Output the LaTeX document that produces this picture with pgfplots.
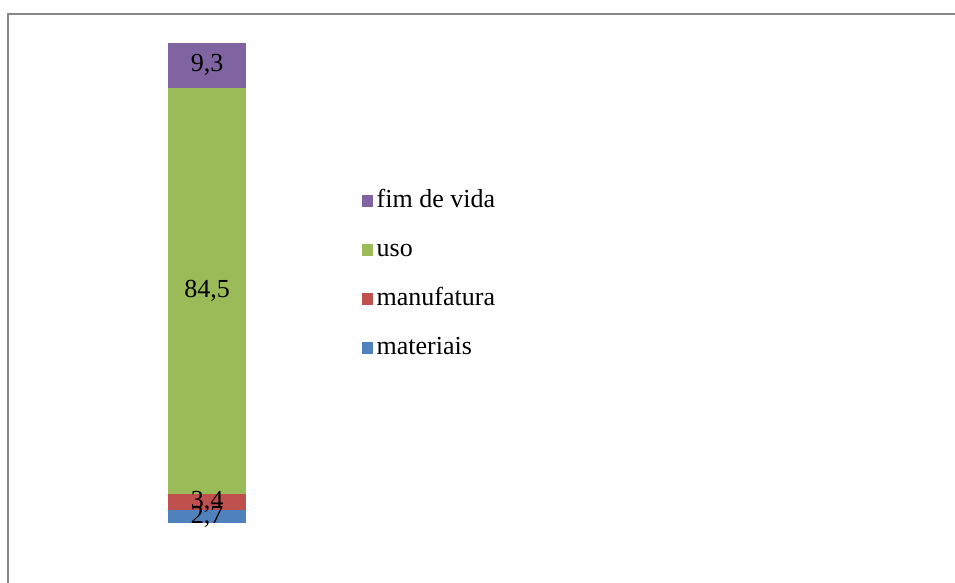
\documentclass[border=0pt,12pt]{standalone}
\usepackage{fontspec}
\setmainfont{Liberation Serif}
\usepackage{pgfplots}
\pgfplotsset{compat=1.18}

\definecolor{cmat}{HTML}{4F81BD}
\definecolor{cman}{HTML}{C0504D}
\definecolor{cuso}{HTML}{9BBB59}
\definecolor{cfim}{HTML}{8064A2}
\definecolor{frame}{HTML}{868686}

\begin{document}
\begin{tikzpicture}
\useasboundingbox (0,0) rectangle (477.5pt,291.5pt);
\fill[white] (0,0) rectangle (477.5pt,291.5pt);
\draw[frame, line width=1pt] (4pt,-1pt) -- (4pt,284.5pt) -- (478.5pt,284.5pt);

\begin{axis}[
    at={(64.5pt,30pt)}, anchor=south west,
    scale only axis, width=78pt, height=240pt,
    xmin=-1, xmax=1, ymin=0, ymax=99.9,
    hide axis,
    ybar stacked, bar width=39pt,
    reverse legend,
    legend cell align=left,
    legend style={
        at={(axis description cs:1.494,0.518)}, anchor=west,
        draw=none, fill=none, inner sep=0pt, outer sep=0pt,
        row sep=14pt,
        font=\fontsize{13pt}{15pt}\selectfont,
        nodes={text height=8.5pt, text depth=2pt, inner ysep=0pt, inner xsep=1.8pt},
    },
    legend image code/.code={
        \fill[#1, draw=none] (0pt,-3pt) rectangle (5.5pt,2.8pt);
    },
]
\addplot[fill=cmat, draw=none] coordinates {(0,2.7)};
\addlegendentry{materiais}
\addplot[fill=cman, draw=none] coordinates {(0,3.4)};
\addlegendentry{manufatura}
\addplot[fill=cuso, draw=none] coordinates {(0,84.5)};
\addlegendentry{uso}
\addplot[fill=cfim, draw=none] coordinates {(0,9.3)};
\addlegendentry{fim de vida}
\end{axis}

\begin{axis}[
    at={(64.5pt,30pt)}, anchor=south west,
    scale only axis, width=78pt, height=240pt,
    xmin=-1, xmax=1, ymin=0, ymax=99.9,
    hide axis,
]
\addplot[draw=none, mark=none, nodes near coords, point meta=explicit symbolic,
    every node near coord/.append style={anchor=center, inner sep=0pt,
        font=\fontsize{13pt}{15pt}\selectfont, text=black}]
    coordinates {(0,1.35)[{2,7}] (0,4.4)[{3,4}] (0,48.35)[{84,5}] (0,95.25)[{9,3}]};
\end{axis}
\end{tikzpicture}
\end{document}
